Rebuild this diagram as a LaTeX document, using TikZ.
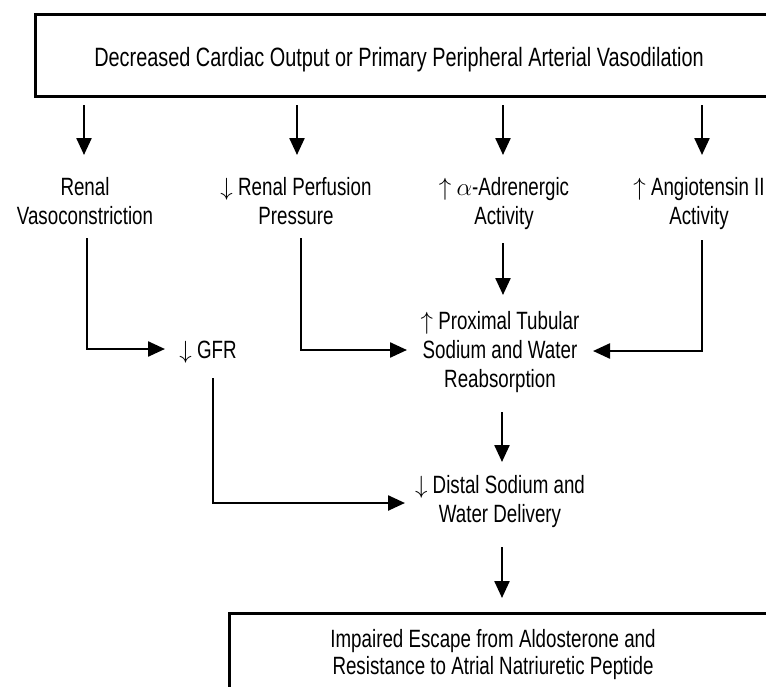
\documentclass[tikz,border=0pt]{standalone}
\usepackage{fontspec}
\setmainfont{Liberation Sans}[FakeStretch=0.75]
\usetikzlibrary{arrows.meta}
\newcommand{\lblfont}{\fontsize{25}{29}\selectfont}
\newcommand{\botfont}{\fontsize{25}{27}\selectfont}
\newcommand{\ttlfont}{\fontsize{26.5}{30}\selectfont}
\begin{document}
\begin{tikzpicture}[x=1pt,y=-1pt,
  lbl/.style={align=center,font=\lblfont,inner sep=0pt,anchor=base},
  boxed/.style={draw,line width=3pt,outer sep=0pt,inner sep=0pt,anchor=north west},
  arr/.style={line width=2.4pt,-{Triangle[length=17pt,width=15pt]}},
]
\useasboundingbox (0,0) rectangle (766,686);
\clip (0,0) rectangle (766,686);
% boxes
\node[boxed,minimum width=760pt,minimum height=82pt] (top) at (35,14) {};
\node[font=\ttlfont,inner sep=0pt,anchor=base] (title) at (399,66) {Decreased Cardiac Output or Primary Peripheral Arterial Vasodilation};
\node[boxed,minimum width=600pt,minimum height=120pt] (bot) at (229,613) {};
\node[lbl,font=\botfont] (bottext) at (493,674) {Impaired Escape from Aldosterone and\\Resistance to Atrial Natriuretic Peptide};
% labels (base = baseline of last line)
\node[lbl] (rv) at (85,224) {Renal\\Vasoconstriction};
\node[lbl] (rpp) at (296,224) {$\downarrow$ Renal Perfusion\\Pressure};
\node[lbl] (ada) at (504,224) {$\uparrow$ $\alpha$-Adrenergic\\Activity};
\node[lbl] (ang) at (699,224) {$\uparrow$ Angiotensin II\\Activity};
\node[lbl] (gfr) at (208,358) {$\downarrow$ GFR};
\node[lbl] (prox) at (500,387) {$\uparrow$ Proximal Tubular\\Sodium and Water\\Reabsorption};
\node[lbl] (dist) at (500,522) {$\downarrow$ Distal Sodium and\\Water Delivery};
% coordinates
\coordinate (s1) at (84,105);  \coordinate (e1) at (84,155);
\coordinate (s2) at (297,105); \coordinate (e2) at (297,155);
\coordinate (s3) at (503,105); \coordinate (e3) at (503,155);
\coordinate (s4) at (702,105); \coordinate (e4) at (702,155);
\coordinate (rvb) at (87,238);  \coordinate (rvc) at (87,349);  \coordinate (gfrin) at (165,349);
\coordinate (rppb) at (301,238); \coordinate (rppc) at (301,350); \coordinate (proxl) at (407,350);
\coordinate (angb) at (702,240); \coordinate (angc) at (702,351); \coordinate (proxr) at (593,351);
\coordinate (adab) at (503,243); \coordinate (adae) at (503,295);
\coordinate (reab) at (502,412); \coordinate (reae) at (502,462);
\coordinate (gfrb) at (213,378); \coordinate (gfrc) at (213,503); \coordinate (distl) at (405,503);
\coordinate (distb) at (502,547); \coordinate (diste) at (502,598);
% connectors
\draw[arr] (s1) -- (e1);
\draw[arr] (s2) -- (e2);
\draw[arr] (s3) -- (e3);
\draw[arr] (s4) -- (e4);
\draw[arr] (rvb) -- (rvc) -- (gfrin);
\draw[arr] (rppb) -- (rppc) -- (proxl);
\draw[arr] (angb) -- (angc) -- (proxr);
\draw[arr] (adab) -- (adae);
\draw[arr] (reab) -- (reae);
\draw[arr] (gfrb) -- (gfrc) -- (distl);
\draw[arr] (distb) -- (diste);
\end{tikzpicture}
\end{document}
